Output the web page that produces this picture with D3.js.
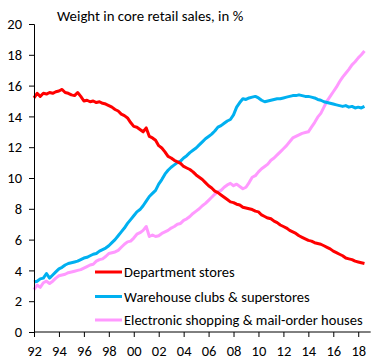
<!DOCTYPE html>
<html>
<head>
<meta charset="utf-8">
<script src="https://cdn.jsdelivr.net/npm/d3@7"></script>
<style>
  html, body { margin: 0; padding: 0; background: #fff; }
  svg { display: block; }
  text { font-family: Calibri, Carlito, "Liberation Sans", Arial, sans-serif; fill: #000; }
</style>
</head>
<body>
<svg id="chart" width="385" height="360"></svg>
<script>
// ---- Data (quarterly readings, first point = 1992 Q1) ----
const startYear = 1992;
const stepYears = 0.25;

const departmentStores = [
  15.2, 15.5, 15.3, 15.5,
  15.45, 15.55, 15.5, 15.6,
  15.65, 15.75, 15.55, 15.5,
  15.4, 15.35, 15.55, 15.3,
  15.0, 15.05, 14.95, 15.0,
  14.9, 14.95, 14.85, 14.8,
  14.7, 14.6, 14.45, 14.35,
  14.15, 14.05, 13.9, 13.6,
  13.35, 13.3, 13.15, 13.0,
  13.25, 12.7, 12.6, 12.45,
  12.1, 11.95, 11.7, 11.4,
  11.3, 11.15, 11.05, 10.95,
  10.75, 10.65, 10.55, 10.4,
  10.2, 10.05, 9.9, 9.7,
  9.5, 9.35, 9.15, 9.05,
  8.9, 8.75, 8.6, 8.45,
  8.4, 8.3, 8.25, 8.1,
  8.05, 8.0, 7.95, 7.85,
  7.8, 7.6, 7.5, 7.4,
  7.35, 7.2, 7.1, 6.95,
  6.85, 6.75, 6.6, 6.5,
  6.4, 6.25, 6.15, 6.05,
  5.95, 5.9, 5.8, 5.75,
  5.7, 5.6, 5.5, 5.4,
  5.25, 5.15, 5.05, 4.95,
  4.8, 4.75, 4.7, 4.6,
  4.55, 4.5, 4.45
];

const warehouseClubs = [
  3.25, 3.3, 3.45, 3.5,
  3.8, 3.5, 3.7, 3.9,
  4.1, 4.2, 4.35, 4.45,
  4.5, 4.55, 4.6, 4.7,
  4.8, 4.85, 4.95, 5.05,
  5.1, 5.25, 5.35, 5.45,
  5.6, 5.8, 6.0, 6.25,
  6.5, 6.75, 7.05, 7.3,
  7.55, 7.8, 7.95, 8.2,
  8.5, 8.8, 9.0, 9.2,
  9.6, 9.9, 10.25, 10.5,
  10.7, 10.85, 11.0, 11.1,
  11.3, 11.45, 11.65, 11.8,
  11.95, 12.15, 12.35, 12.55,
  12.7, 12.85, 13.05, 13.3,
  13.4, 13.55, 13.7, 13.8,
  14.1, 14.6, 14.9, 15.15,
  15.1, 15.2, 15.25, 15.3,
  15.2, 15.05, 14.95, 15.0,
  15.05, 15.1, 15.15, 15.15,
  15.2, 15.25, 15.3, 15.35,
  15.35, 15.4, 15.35, 15.3,
  15.3, 15.25, 15.2, 15.1,
  15.05, 14.95, 14.9, 14.85,
  14.8, 14.75, 14.7, 14.65,
  14.7, 14.6, 14.65, 14.55,
  14.6, 14.55, 14.65
];

const electronicShopping = [
  2.75, 3.05, 2.9, 3.2,
  3.3, 3.15, 3.3, 3.5,
  3.65, 3.7, 3.75, 3.85,
  3.9, 3.95, 4.0, 4.05,
  4.15, 4.25, 4.35, 4.4,
  4.6, 4.7, 4.75, 4.9,
  5.1, 5.15, 5.2, 5.3,
  5.5, 5.7, 5.85, 5.9,
  6.1, 6.35, 6.45, 6.6,
  6.85, 6.2, 6.3, 6.2,
  6.25, 6.4, 6.5, 6.6,
  6.75, 6.85, 7.0, 7.05,
  7.25, 7.35, 7.5, 7.7,
  7.85, 8.0, 8.2, 8.35,
  8.55, 8.75, 8.95, 9.1,
  9.2, 9.4, 9.55, 9.65,
  9.5, 9.6, 9.45, 9.3,
  9.4, 9.7, 10.05, 10.15,
  10.4, 10.6, 10.75, 10.9,
  11.15, 11.3, 11.5, 11.7,
  11.9, 12.1, 12.35, 12.6,
  12.7, 12.8, 12.9, 12.95,
  13.0, 13.3, 13.6, 13.95,
  14.2, 14.6, 15.0, 15.3,
  15.6, 15.9, 16.25, 16.55,
  16.8, 17.05, 17.35, 17.55,
  17.8, 18.0, 18.25
];

const seriesNames = [
  "Department stores",
  "Warehouse clubs & superstores",
  "Electronic shopping & mail-order houses"
];
const seriesColors = ["#FF0000", "#00B0F0", "#FF99FF"];
const xTickYears = [1992, 1994, 1996, 1998, 2000, 2002, 2004, 2006, 2008, 2010, 2012, 2014, 2016, 2018];
const xTickLabels = ["92", "94", "96", "98", "00", "02", "04", "06", "08", "10", "12", "14", "16", "18"];
const yTicks = [0, 2, 4, 6, 8, 10, 12, 14, 16, 18, 20];
const titleText = "Weight in core retail sales, in %";

// ---- Drawing ----
const svg = d3.select("#chart");
const x = d3.scaleLinear().domain([1992, 2019]).range([34, 370.7]);
const y = d3.scaleLinear().domain([0, 20]).range([332, 24]);

const allSeries = [departmentStores, warehouseClubs, electronicShopping];

const line = d3.line()
  .x((d, i) => x(startYear + i * stepYears))
  .y(d => y(d));

// title
svg.append("text")
  .attr("x", 57).attr("y", 21)
  .style("font-size", "14.8px")
  .text(titleText);

[2, 1, 0].forEach(k => {
  svg.append("path")
    .datum(allSeries[k])
    .attr("fill", "none")
    .attr("stroke", seriesColors[k])
    .attr("stroke-width", 3)
    .attr("stroke-linejoin", "round")
    .attr("d", line);
});

// y axis
const yAxis = d3.axisLeft(y).tickValues(yTicks).tickSize(5).tickPadding(7).tickFormat(d3.format("d"));
const gy = svg.append("g").attr("transform", "translate(34,0)").call(yAxis);
gy.selectAll("text").style("font-size", "14.5px");
gy.select(".domain").attr("stroke", "#000");

// x axis
const xAxis = d3.axisBottom(x).tickValues(xTickYears).tickSize(5).tickPadding(9)
  .tickFormat((d, i) => xTickLabels[i]);
const gx = svg.append("g").attr("transform", "translate(0,332)").call(xAxis);
gx.selectAll("text").style("font-size", "14.5px");
gx.select(".domain").attr("stroke", "#000").attr("d", "M34,0H370.7");

// legend
const legendY = [272, 296.5, 320];
seriesNames.forEach((name, k) => {
  svg.append("line")
    .attr("x1", 95).attr("x2", 122)
    .attr("y1", legendY[k]).attr("y2", legendY[k])
    .attr("stroke", seriesColors[k]).attr("stroke-width", 3);
  svg.append("text")
    .attr("x", 124).attr("y", legendY[k])
    .attr("dy", "0.35em")
    .style("font-size", "14.5px")
    .text(name);
});
</script>
</body>
</html>
